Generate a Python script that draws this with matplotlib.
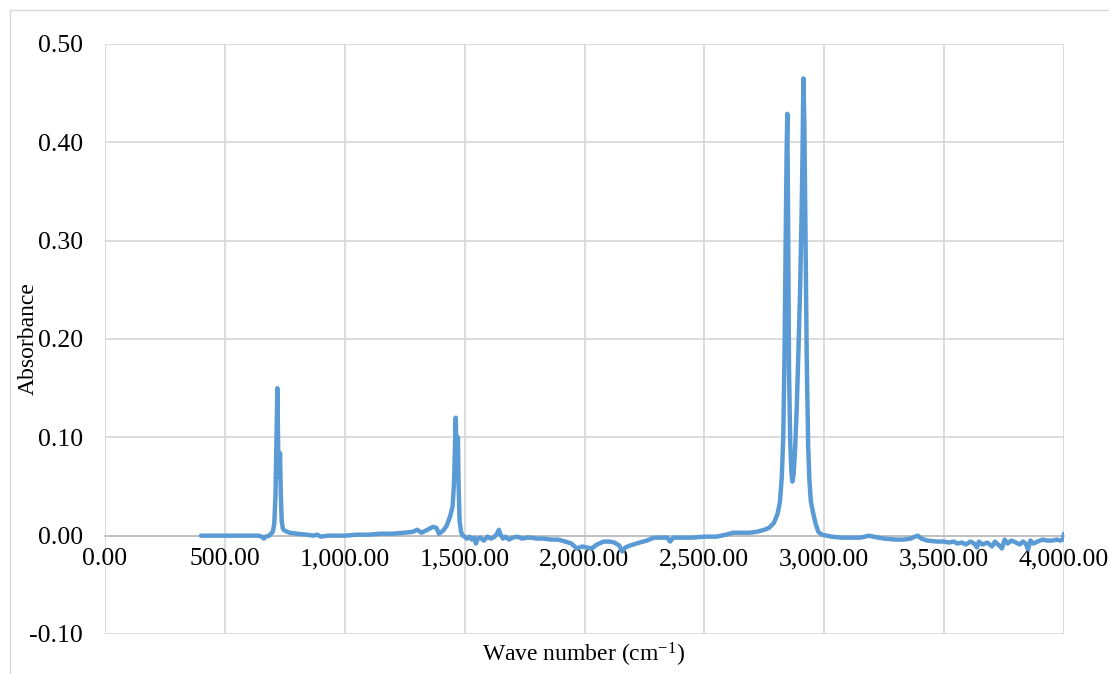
import matplotlib
matplotlib.use("Agg")
import matplotlib.pyplot as plt
from matplotlib.patches import Rectangle
from matplotlib.ticker import FuncFormatter, MultipleLocator

plt.rcParams["font.family"] = ["Liberation Serif", "DejaVu Serif"]
plt.rcParams["mathtext.fontset"] = "custom"
plt.rcParams["mathtext.rm"] = "Liberation Serif"
plt.rcParams["mathtext.default"] = "regular"

# spectrum, as (wave number, absorbance) per region
band_720 = [(400, 0.000), (500, 0.000), (600, 0.000), (640, 0.000), (655, -0.001),
            (662, -0.003), (670, -0.001), (685, 0.000), (700, 0.004), (706, 0.012),
            (711, 0.040), (715, 0.095), (719, 0.150), (721, 0.110), (724, 0.060),
            (727, 0.070), (730, 0.084), (733, 0.045), (737, 0.015), (742, 0.007),
            (750, 0.005), (770, 0.003), (800, 0.002), (840, 0.001), (870, 0.000),
            (885, 0.001), (900, -0.001), (930, 0.000), (960, 0.000), (1000, 0.000)]
band_1460 = [(1050, 0.001), (1100, 0.001), (1150, 0.002), (1200, 0.002), (1250, 0.003),
             (1285, 0.004), (1302, 0.006), (1320, 0.003), (1345, 0.006), (1368, 0.009),
             (1382, 0.008), (1393, 0.002), (1410, 0.005), (1425, 0.010), (1440, 0.020),
             (1450, 0.030), (1456, 0.055), (1460, 0.090), (1463, 0.120), (1466, 0.080),
             (1469, 0.068), (1472, 0.100), (1475, 0.050), (1479, 0.015), (1485, 0.004),
             (1492, 0.000)]
middle = [(1500, -0.001), (1510, -0.003), (1520, -0.001), (1530, -0.004), (1540, -0.002),
          (1547, -0.008), (1555, -0.003), (1565, -0.002), (1580, -0.005), (1595, -0.001),
          (1610, -0.003), (1625, -0.001), (1635, 0.002), (1643, 0.006), (1650, 0.001),
          (1660, -0.003), (1670, -0.001), (1685, -0.004), (1700, -0.002), (1720, -0.001),
          (1740, -0.003), (1760, -0.002), (1780, -0.002), (1800, -0.003), (1830, -0.003),
          (1860, -0.004), (1890, -0.004), (1920, -0.006), (1945, -0.008), (1968, -0.013),
          (1990, -0.011), (2010, -0.012), (2030, -0.013), (2052, -0.009), (2080, -0.006),
          (2105, -0.006), (2125, -0.007), (2145, -0.010), (2157, -0.016), (2170, -0.012),
          (2190, -0.010), (2230, -0.007), (2260, -0.005), (2290, -0.002), (2320, -0.002),
          (2345, -0.002), (2357, -0.006), (2370, -0.002), (2400, -0.002), (2450, -0.002),
          (2500, -0.001), (2550, -0.001), (2590, 0.001), (2620, 0.003), (2650, 0.003),
          (2690, 0.003), (2720, 0.004), (2750, 0.006)]
band_2900 = [(2770, 0.008), (2790, 0.013), (2805, 0.022), (2815, 0.034), (2823, 0.060),
             (2829, 0.100), (2834, 0.180), (2839, 0.300), (2843, 0.390), (2846, 0.429),
             (2849, 0.330), (2853, 0.170), (2858, 0.095), (2863, 0.065), (2867, 0.055),
             (2872, 0.062), (2878, 0.085), (2885, 0.128), (2892, 0.185), (2899, 0.247),
             (2905, 0.320), (2909, 0.382), (2913, 0.465), (2917, 0.420), (2921, 0.320),
             (2927, 0.179), (2933, 0.090), (2938, 0.057), (2944, 0.035), (2952, 0.025),
             (2963, 0.013), (2975, 0.004), (2990, 0.001)]
high_end = [(3030, -0.001), (3070, -0.002), (3110, -0.002), (3150, -0.002), (3170, -0.001),
            (3187, 0.000), (3205, -0.001), (3250, -0.003), (3300, -0.004), (3330, -0.004),
            (3360, -0.003), (3378, -0.001), (3390, 0.000), (3405, -0.003), (3430, -0.005),
            (3470, -0.006), (3500, -0.006), (3520, -0.007), (3540, -0.006), (3555, -0.008),
            (3575, -0.007), (3590, -0.009), (3610, -0.006), (3625, -0.008), (3637, -0.012),
            (3645, -0.006), (3660, -0.009), (3680, -0.007), (3700, -0.011), (3712, -0.006),
            (3720, -0.008), (3730, -0.010), (3741, -0.013), (3752, -0.004), (3765, -0.008),
            (3780, -0.005), (3800, -0.007), (3815, -0.009), (3829, -0.006), (3840, -0.008),
            (3850, -0.014), (3860, -0.005), (3872, -0.008), (3890, -0.006), (3910, -0.004),
            (3930, -0.005), (3950, -0.005), (3970, -0.004), (3985, -0.005), (3995, -0.004),
            (4000, 0.002)]

points = band_720 + band_1460 + middle + band_2900 + high_end
wave = [p[0] for p in points]
absorb = [p[1] for p in points]

fig = plt.figure(figsize=(11.09, 6.74), dpi=100)
fig.patches.append(Rectangle((10 / 1109, -0.1), 1.2, 1.1 - 10 / 674, transform=fig.transFigure,
                             fill=False, edgecolor="#D9D9D9", linewidth=1.0))
ax = fig.add_axes([105 / 1109, 1 - 634 / 674, (1064 - 105) / 1109, (634 - 44) / 674])

ax.plot(wave, absorb, color="#5B9BD5", linewidth=3.2, solid_joinstyle="round",
        solid_capstyle="round", zorder=3)

ax.set_xlim(0, 4000)
ax.set_ylim(-0.10, 0.50)
ax.xaxis.set_major_locator(MultipleLocator(500))
ax.yaxis.set_major_locator(MultipleLocator(0.1))
ax.xaxis.set_major_formatter(FuncFormatter(lambda v, p: f"{v:,.2f}"))
ax.yaxis.set_major_formatter(FuncFormatter(lambda v, p: f"{v:.2f}"))
ax.grid(True, color="#D9D9D9", linewidth=1.3)
ax.set_axisbelow(True)

for s in ["top", "right", "left"]:
    ax.spines[s].set_visible(False)
ax.spines["bottom"].set_position(("data", 0))
ax.spines["bottom"].set_color("#BFBFBF")
ax.spines["bottom"].set_linewidth(1.3)
ax.tick_params(axis="both", length=0, labelsize=18.5)
ax.tick_params(axis="x", pad=9)
ax.tick_params(axis="y", pad=16)

fig.text(28 / 1109, 1 - 339 / 674, "Absorbance", fontsize=17, rotation=90,
         ha="center", va="center")
fig.text(584 / 1109, 1 - 655 / 674, "Wave number (cm$^{-1}$)", fontsize=17,
         ha="center", va="center")

fig.savefig("out.png", dpi=100)
